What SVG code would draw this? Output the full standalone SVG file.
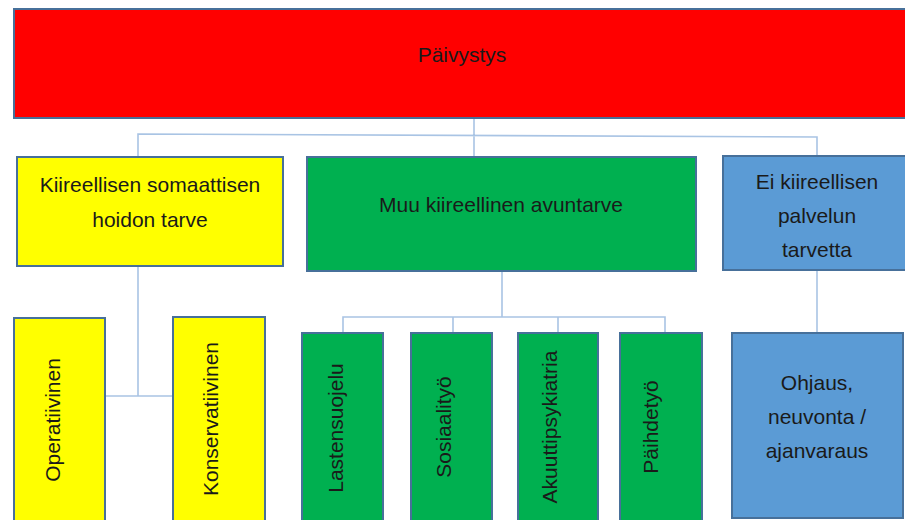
<svg xmlns="http://www.w3.org/2000/svg" width="905" height="520" viewBox="0 0 905 520">
<style>
.box{stroke:#47709a;stroke-width:2}
.red{fill:#ff0000}
.yel{fill:#ffff00}
.grn{fill:#00b050}
.blu{fill:#5b9bd5}
.t{font-family:"Liberation Sans",Arial,sans-serif;font-size:21px;fill:#1a1a1a;text-anchor:middle}
.c{fill:none;stroke:#a9c4e4;stroke-width:1.6}
</style>
<rect width="905" height="520" fill="#ffffff"/>
<g id="connectors">
<path class="c" d="M474 118 V158 M138 158 V134 L817 137 V157"/>
<path class="c" d="M138 266 V396 M105 396 H173"/>
<path class="c" d="M502 271 V317 M343 333 V317 H665 V333 M453 317 V333 M558 317 V333"/>
<path class="c" d="M817 270 V333"/>
</g>
<g id="paivystys"><rect class="box red" x="14" y="9" width="900" height="109"/><text class="t" x="462" y="62">Päivystys</text></g>
<g id="somaattinen"><rect class="box yel" x="17" y="157" width="266" height="109"/><text class="t" x="150" y="192">Kiireellisen somaattisen</text><text class="t" x="150" y="227">hoidon tarve</text></g>
<g id="muu"><rect class="box grn" x="307" y="157" width="389" height="114"/><text class="t" x="501" y="212">Muu kiireellinen avuntarve</text></g>
<g id="ei-kiireellinen"><rect class="box blu" x="723" y="156" width="190" height="114"/><text class="t" x="817" y="189">Ei kiireellisen</text><text class="t" x="817" y="223">palvelun</text><text class="t" x="817" y="257">tarvetta</text></g>
<g id="operatiivinen"><rect class="box yel" x="14" y="318" width="91" height="210"/><text class="t" transform="translate(60 420) rotate(-90)">Operatiivinen</text></g>
<g id="konservatiivinen"><rect class="box yel" x="173" y="317" width="92" height="211"/><text class="t" transform="translate(218 419) rotate(-90)">Konservatiivinen</text></g>
<g id="lastensuojelu"><rect class="box grn" x="302" y="333" width="81" height="195"/><text class="t" transform="translate(343 428) rotate(-90)">Lastensuojelu</text></g>
<g id="sosiaalityo"><rect class="box grn" x="411" y="333" width="81" height="195"/><text class="t" transform="translate(451 427) rotate(-90)">Sosiaalityö</text></g>
<g id="akuuttipsykiatria"><rect class="box grn" x="518" y="333" width="80" height="195"/><text class="t" transform="translate(557 427) rotate(-90)">Akuuttipsykiatria</text></g>
<g id="paihdetyo"><rect class="box grn" x="620" y="333" width="82" height="195"/><text class="t" transform="translate(658 427) rotate(-90)">Päihdetyö</text></g>
<g id="ohjaus"><rect class="box blu" x="732" y="333" width="171" height="185"/><text class="t" x="817" y="390">Ohjaus,</text><text class="t" x="817" y="424">neuvonta /</text><text class="t" x="817" y="458">ajanvaraus</text></g>
</svg>
